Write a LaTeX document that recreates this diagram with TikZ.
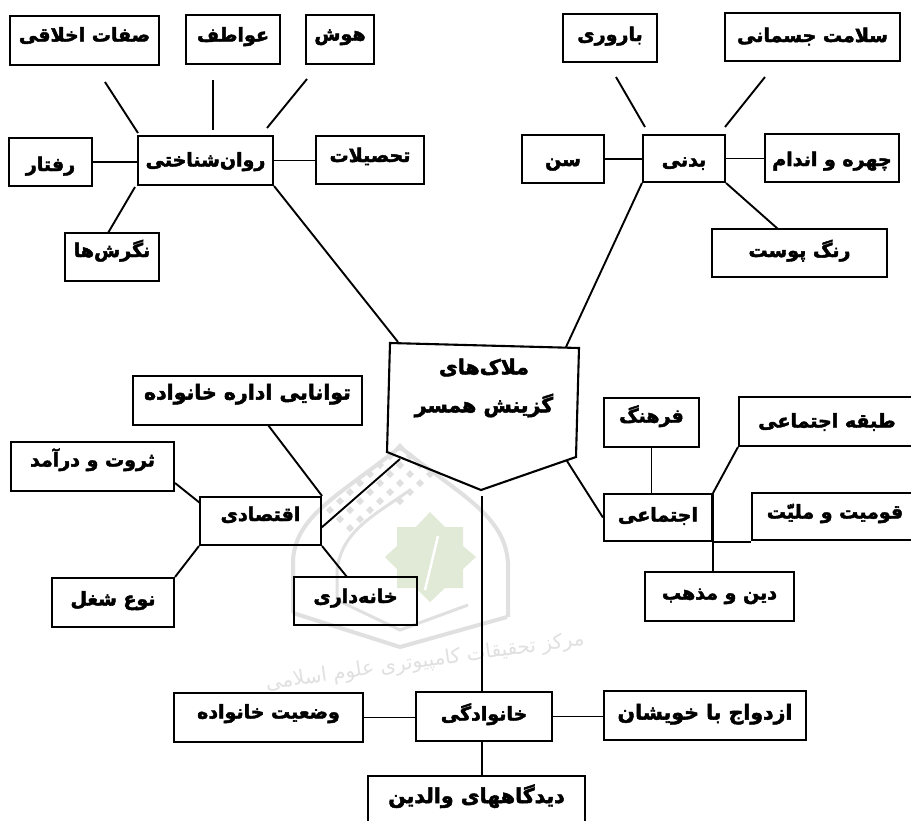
\documentclass[tikz,border=0pt]{standalone}
\usepackage{fontspec}
\newfontfamily\fafont[Script=Arabic,BoldFeatures={FakeBold=2.4}]{DejaVu Sans}
\TeXXeTstate=1
\usetikzlibrary{calc}
\definecolor{wmgray}{RGB}{224,224,224}
\definecolor{wmgreen}{RGB}{224,234,214}
\newcommand{\bx}[6][]{\node[itembox,#1,minimum width={(#5-#3)*1pt},minimum height={(#6-#4)*1pt}] (#2) at ({(#3+#5)/2},{(#4+#6)/2})}
\tikzset{
  itembox/.style={draw=black,line width=2.1pt,fill=none,inner sep=0pt,text height=10pt,text depth=10pt,font=\fafont\bfseries\fontsize{19}{22}\selectfont},
  widetext/.style={font=\fafont\bfseries\fontsize{20.5}{24}\selectfont},
  td/.style n args={2}{text height=#1pt,text depth=#2pt},
  link/.style={draw=black,line width=1.9pt},
  wmline/.style={draw=wmgray,line width=4pt},
  wmdot/.style={fill=wmgray},
}
\begin{document}
\begin{tikzpicture}[x=1pt,y=-1pt]
\useasboundingbox (0,0) rectangle (911,820);
\clip (0,0) rectangle (911,820);
\fill[white] (0,0) rectangle (911,820);
% watermark
\draw[wmline] (293,613) -- (293,560) .. controls (296,515) and (340,495) .. (400,447) .. controls (460,495) and (505,515) .. (508,563) -- (508,617);
\draw[wmline] (293,613) -- (400,647) -- (507,617);
\draw[wmline,line width=3pt] (337,600) -- (337,570) .. controls (342,530) and (375,515) .. (410,490);
\draw[wmline,line width=3pt] (337,600) -- (400,630) -- (468,605);
\foreach \a/\b in {400/447,410/456,420/465,430/474,390/456,400/465,410/474,420/483,380/465,390/474,400/483,410/492,370/474,380/483,390/492,400/501,360/483,370/492,380/501,350/492,360/501,370/510,340/501,350/510,360/519,330/510,340/519,350/528}
  \fill[wmdot] (\a,\b-4) -- (\a+4,\b) -- (\a,\b+4) -- (\a-4,\b) -- cycle;
\fill[wmgreen] (430,512) -- (445,527) -- (463,527) -- (463,546) -- (476,557) -- (463,569) -- (463,588) -- (445,588) -- (430,602) -- (416,588) -- (397,588) -- (397,569) -- (385,557) -- (397,546) -- (397,527) -- (416,527) -- cycle;
\draw[white,line width=2.5pt] (438,536) -- (425,590);
\node[text=wmgray,rotate=8,font=\fafont\fontsize{20}{24}\selectfont] (wmtext) at (425,662) {\beginR مرکز تحقیقات کامپیوتری علوم اسلامی\endR};
% psychological branch
\bx[td={11}{9}]{sefat}{10}{16}{159}{65} {\beginR صفات اخلاقی\endR};
\bx[td={12}{8}]{avatef}{186}{15}{280}{64} {\beginR عواطف\endR};
\bx[td={11}{9}]{hush}{306}{15}{374}{64} {\beginR هوش\endR};
\bx[td={16}{4}]{ravan}{138}{136}{273}{185} {\beginR روان‌شناختی\endR};
\bx[td={19}{1}]{raftar}{9}{138}{92}{186} {\beginR رفتار\endR};
\bx[td={12}{8}]{tahsil}{316}{136}{424}{184} {\beginR تحصیلات\endR};
\bx{negaresh}{65}{233}{159}{281} {\beginR نگرش‌ها\endR};
% physical branch
\bx[td={13}{7}]{barvari}{563}{14}{657}{62} {\beginR باروری\endR};
\bx[td={15}{5}]{salamat}{725}{13}{900}{61} {\beginR سلامت جسمانی\endR};
\bx[td={18}{2}]{badani}{643}{135}{725}{182} {\beginR بدنی\endR};
\bx[td={17}{3}]{sen}{522}{135}{604}{183} {\beginR سن\endR};
\bx[td={18}{2}]{chehre}{765}{134}{899}{182} {\beginR چهره و اندام\endR};
\bx[td={14}{6}]{rang}{712}{229}{887}{277} {\beginR رنگ پوست\endR};
% economic branch
\bx[widetext,td={9}{11}]{tavana}{133}{376}{362}{425} {\beginR توانایی اداره خانواده\endR};
\bx{servat}{11}{442}{174}{491} {\beginR ثروت و درآمد\endR};
\bx{eqt}{200}{497}{321}{545} {\beginR اقتصادی\endR};
\bx[td={13}{7}]{shoghl}{52}{578}{174}{627} {\beginR نوع شغل\endR};
\bx[td={12}{8}]{khanedari}{294}{577}{417}{625} {\beginR خانه‌داری\endR};
% social branch
\bx{farhang}{604}{398}{699}{447} {\beginR فرهنگ\endR};
\bx[td={16}{4}]{tabaghe}{739}{397}{915}{446} {\beginR طبقه اجتماعی\endR};
\bx[td={14}{6}]{ejtemai}{604}{494}{712}{541} {\beginR اجتماعی\endR};
\bx[td={12}{8}]{qowm}{752}{493}{918}{540} {\beginR قومیت و ملیّت\endR};
\bx[td={13}{7}]{din}{645}{572}{794}{621} {\beginR دین و مذهب\endR};
% family branch
\bx[td={11}{9}]{vazi}{174}{693}{363}{742} {\beginR وضعیت خانواده\endR};
\bx[td={14}{6}]{khan}{416}{692}{552}{741} {\beginR خانوادگی\endR};
\bx[widetext,td={14}{6}]{ezd}{604}{691}{806}{740} {\beginR ازدواج با خویشان\endR};
\bx[widetext,td={12}{8}]{didgah}{368}{776}{585}{826} {\beginR دیدگاههای والدین\endR};
% central pentagon
\coordinate (mA) at (390,343);
\coordinate (mB) at (579,348);
\coordinate (mC) at (576,457);
\coordinate (mD) at (481,490);
\coordinate (mE) at (387,452);
\draw[black,line width=2.1pt,line join=miter] (mA) -- (mB) -- (mC) -- (mD) -- (mE) -- cycle;
\node[align=center,inner sep=0pt,font=\fafont\bfseries\fontsize{20.5}{38}\selectfont] (malak) at (484,388) {\beginR ملاک‌های\endR\\\beginR گزینش همسر\endR};
% free ends
\coordinate (f1a) at (105,82); \coordinate (f1b) at (138,133);
\coordinate (f2a) at (213,80); \coordinate (f2b) at (213,130);
\coordinate (f3a) at (307,79); \coordinate (f3b) at (267,128);
\coordinate (f4a) at (616,77); \coordinate (f4b) at (645,127);
\coordinate (f5a) at (765,77); \coordinate (f5b) at (725,127);
\coordinate (f6a) at (108,233); \coordinate (f6b) at (135,187);
\coordinate (mRavan) at (398,342);
\coordinate (mBadani) at (566,347);
\coordinate (mEqt) at (400,459);
\coordinate (mEjt) at (567,461);
\coordinate (mKhan) at (482,496);
\coordinate (tavanaB) at (268,425);
\coordinate (eqtR) at (321,528);
\coordinate (eqtK) at (347,577);
\coordinate (servatE) at (175,483);
\coordinate (eqtL) at (200,503);
\coordinate (rangT) at (778,229);
% connectors
\draw[link] (f1a) -- (f1b);
\draw[link] (f2a) -- (f2b);
\draw[link] (f3a) -- (f3b);
\draw[link] (f4a) -- (f4b);
\draw[link] (f5a) -- (f5b);
\draw[link] (f6a) -- (f6b);
\draw[link] (raftar.east) -- (raftar.east -| ravan.west);
\draw[link] (ravan.east) -- (ravan.east -| tahsil.west);
\draw[link] (ravan.south east) -- (mRavan);
\draw[link] (sen.east) -- (sen.east -| badani.west);
\draw[link] (badani.east) -- (badani.east -| chehre.west);
\draw[link] (badani.south east) -- (rangT);
\draw[link] (badani.south west) -- (mBadani);
\draw[link] (tavanaB) -- (eqt.north east);
\draw[link] (eqtR) -- (mEqt);
\draw[link] (eqt.south east) -- (eqtK);
\draw[link] (servatE) -- (eqtL);
\draw[link] (shoghl.north east) -- (eqt.south west);
\draw[link] (mEjt) -- (ejtemai.west);
\draw[link] (farhang.south) -- (farhang.south |- ejtemai.north);
\draw[link] (tabaghe.south west) -- (ejtemai.north east);
\draw[link] (ejtemai.south east) -- (ejtemai.south east -| qowm.west);
\draw[link] (ejtemai.north east) -- (ejtemai.north east |- din.north);
\draw[link] (mKhan) -- (mKhan |- khan.north);
\draw[link] (mKhan |- khan.south) -- (mKhan |- didgah.north);
\draw[link] (vazi.east) -- (vazi.east -| khan.west);
\draw[link] (khan.east) -- (khan.east -| ezd.west);
\end{tikzpicture}
\end{document}
